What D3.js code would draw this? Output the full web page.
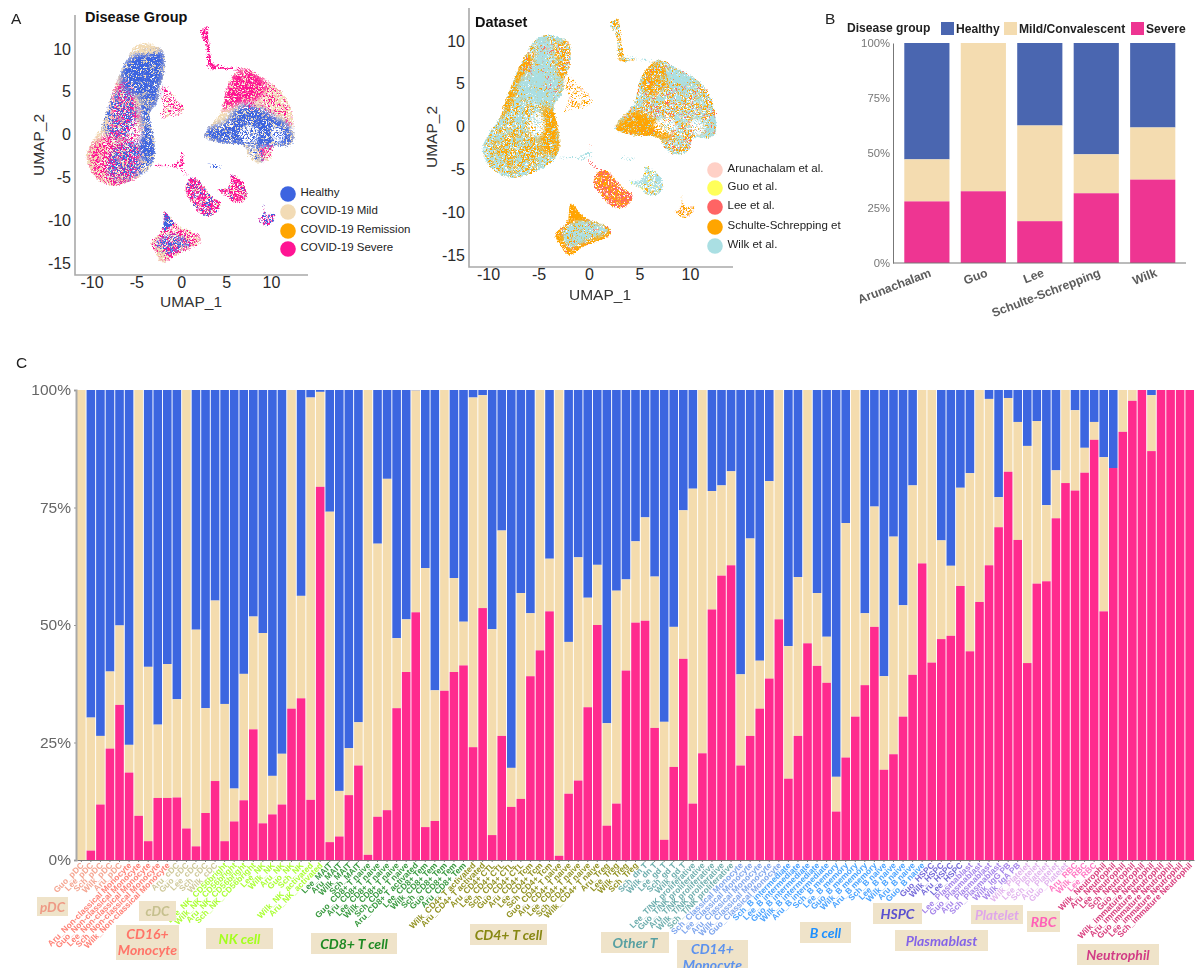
<!DOCTYPE html>
<html><head><meta charset="utf-8">
<script src="https://cdn.jsdelivr.net/npm/d3@7/dist/d3.min.js"></script>
<style>html,body{margin:0;padding:0;background:#fff;overflow:hidden}svg{display:block}text{font-family:"Liberation Sans",Arial,sans-serif}</style>
</head><body><svg id="c" width="1196" height="968"></svg>
<script>
// ---------- Panel C data (percent, cumulative from the bottom) ----------
const groupNames=["pDC","CD16+ Monocyte","cDC","NK cell","CD8+ T cell","CD4+ T cell","Other T","CD14+ Monocyte","B cell","HSPC","Plasmablast","Platelet","RBC","Neutrophil"];
const cellLabels=[
["Guo_pDC","Lee_pDC","Sch_pDC","Wilk_pDC","Aru_pDC"],
["Aru_Non-classical Monocyte","Guo_Non-classical Monocyte","Lee_Non-classical Monocyte","Sch_Non-classical Monocyte","Wilk_Non-classical Monocyte"],
["Aru_cDC","Guo_cDC","Lee_cDC","Sch_cDC","Wilk_cDC"],
["Lee_NK_CD56bright","Wilk_NK_CD56bright","Aru_NK_CD56bright","Sch_NK_CD56bright","Lee_NK","Wilk_NK","Aru_NK","Guo_NK","Sch_NK","Wilk_NK_activated","Aru_NK_activated"],
["Lee_MAIT","Aru_MAIT","Wilk_MAIT","Sch_MAIT","Guo_CD8+ T naive","Aru_CD8+ T naive","Lee_CD8+ T naive","Wilk_CD8+ T naive","Sch_CD8+ T naive","Aru_CD8+ T activated","Lee_CD8+ Tem","Wilk_CD8+ Tem","Sch_CD8+ Tem","Guo_CD8+ Tem","Aru_CD8+ Tem"],
["Wilk_CD4+ T activated","Aru_CD4+ T activated","Aru_CD4+ CTL","Lee_CD4+ CTL","Sch_CD4+ CTL","Guo_CD4+ CTL","Aru_CD4+ Tcm","Lee_CD4+ Tcm","Sch_CD4+ Tcm","Guo_CD4+ T naive","Aru_CD4+ T naive","Lee_CD4+ T naive","Sch_CD4+ T naive","Wilk_CD4+ T naive","Aru_Treg","Lee_Treg","Wilk_Treg","Sch_Treg"],
["Sch_dn T","Wilk_dn T","Lee_gd T","Sch_gd T","Wilk_gd T","Lee_T/NK proliferative","Guo_T/NK proliferative","Aru_T/NK proliferative","Wilk_T/NK proliferative","Sch_T/NK proliferative"],
["Sch_Classical Monocyte","Lee_Classical Monocyte","Aru_Classical Monocyte","Wilk_Classical Monocyte","Guo_Classical Monocyte"],
["Sch_B intermediate","Lee_B intermediate","Guo_B intermediate","Wilk_B intermediate","Aru_B intermediate","Sch_B memory","Lee_B memory","Guo_B memory","Wilk_B memory","Aru_B memory","Sch_B naive","Lee_B naive","Wilk_B naive","Aru_B naive","Guo_B naive"],
["Guo_HSPC","Wilk_HSPC","Aru_HSPC","Lee_HSPC"],
["Lee_Plasmablast","Guo_Plasmablast","Aru_Plasmablast","Sch_Plasmablast","Wilk_IgG PB","Wilk_IgA PB"],
["Wilk_Platelet","Lee_Platelet","Sch_Platelet","Aru_Platelet","Guo_Platelet"],
["Aru_RBC","Wilk_RBC","Lee_RBC"],
["Wilk_Neutrophil","Aru_Neutrophil","Lee_Neutrophil","Sch_Neutrophil","Guo_Neutrophil","Wilk_immature Neutrophil","Aru_immature Neutrophil","Guo_immature Neutrophil","Lee_immature Neutrophil","Sch_immature Neutrophil"]];
const severeTop=[0,2,11.8,23.7,33,18.6,9.4,4,13.2,13.2,13.3,6.7,2.9,10,16.8,4,8.2,12.7,27.8,7.8,9.7,11.8,32.2,34.4,12.8,79.4,3.8,5,13.8,20.1,1.1,9.2,10.6,32.3,
40,52.7,7,8.3,36,40,41.4,24,53.6,5.3,26.4,11.3,13,39.1,44.6,52.9,0.9,14.1,16.9,32.5,50,7.3,12,40.3,50.5,50.9,28.1,4.3,19.8,42.8,12,22.7,53.3,60.5,62.7,20.1,26.4,32.2,38.6,51.2,17.3,26.4,
46.1,41.3,37.7,10.3,21.8,30.5,37.2,49.6,19.2,22.5,30.5,39.4,63.1,42,47,47.7,58.3,44.4,54.9,62.7,70.8,82.6,68.1,41.9,58.8,59.3,72.7,80.2,78.6,82.4,89.4,52.9,83.4,91.1,97.7,100,87,100,100,100,100];
const mildTop=[100,30.3,26.4,40.1,49.9,24.5,100,41.1,28.8,41.7,34.2,100,49,32.3,55.2,33.2,15.2,39.6,51.8,48.3,17.9,22.6,100,56.2,98.4,99.6,74.1,14.7,23.8,29.3,100,67.3,81.1,47.2,
51.2,99.9,62.1,36.1,100,60,50.7,98.4,98.9,49.1,70.1,19.6,56.8,52.5,100,64.1,100,46.4,64.4,55.8,62.8,29.1,57.3,59.7,67.8,72.9,60.3,29.4,49.6,74.4,79,100,78.5,79.7,82.7,39.5,68.4,42.4,80.6,100,45.5,60.2,
100,56.8,47.5,17.7,71.7,100,52.5,75.2,39.1,68.8,54.2,79.7,100,100,68,62.6,79.2,82.3,100,98.1,77.2,98.3,93.2,88.1,93.4,75.5,82.9,100,95.7,87.7,93.2,85.7,83.4,100,100,100,98.9,100,100,100,100];
const percentTicks=[0,25,50,75,100];
// ---------- Panel B data ----------
const datasets=["Arunachalam","Guo","Lee","Schulte-Schrepping","Wilk"];
const dsSevere=[28,32.6,19,31.7,37.9];
const dsMild=[47.1,100,62.5,49.4,61.6];
const dsGroups=["Healthy","Mild/Convalescent","Severe"];
// ---------- Panel A legends ----------
const diseaseLevels=["Healthy","COVID-19 Mild","COVID-19 Remission","COVID-19 Severe"];
const datasetLevels=["Arunachalam et al.","Guo et al.","Lee et al.","Schulte-Schrepping et","Wilk et al."];
const umapTicksX=[-10,-5,0,5,10];
const umapTicksY=[-15,-10,-5,0,5,10];
// ---------- UMAP cluster outlines, read in UMAP units ----------
const leftBlob=[[-5.5,9.9],[-4.2,10.7],[-2.05,9.85],[-1.9,7.2],[-2.35,5.65],[-2.7,3.7],[-3.45,2.55],[-3,-.6],[-3,-2.9],[-3.85,-4.3],[-5.7,-5.45],[-7.55,-6],[-9.05,-5.45],[-10.15,-4.1],[-10.55,-2.5],[-9.8,-.6],[-8.85,1],[-8.5,2.15],[-7.55,5.25],[-6.65,7.6],[-5.9,9.15]];
const rightBlob=[[7.15,7.8],[8.45,7],[10.7,5.45],[12,3.7],[12.55,1],[12.5,-.8],[11.8,-1.35],[10.3,-1.35],[9.95,-2.7],[8.65,-3.3],[7.5,-2.55],[6.95,-1.35],[4.35,-1],[2.55,-.25],[2.85,.6],[4.35,2.55],[5.1,5.65],[5.85,7]];
const sideBlob=[[-2,5.85],[-.85,4.65],[.25,3.3],[.05,2.35],[-1.2,2.15],[-2.35,1.8],[-2,3.3],[-2.35,4.65]];
const topStem=[[2.1,12.05],[2.85,12.65],[3.15,10.7],[3.3,9.15],[3.6,8.15],[4.55,7.8],[3.05,7.65],[2.85,8.55],[2.8,9.9],[2.55,10.9]];
const stemTail=[[3.6,8.2],[5,8],[7,7.7],[7,7.5],[5,7.6],[3.6,7.9]];
const midStreak=[[-2.9,-3.55],[-1,-3.5],[.05,-2.9],[.3,-3.5],[-.4,-3.9],[-1.5,-3.7],[-2.9,-3.7]];
const midTail=[[-.1,-3.9],[.2,-4],[.9,-4.9],[.7,-5]];
const midUp=[[.0,-2],[.15,-2],[.25,-3],[.05,-3]];
const smallDart=[[3,-3.35],[3.8,-3.55],[4.6,-3.65],[3.8,-4],[3.3,-3.7]];
const plateBlob=[[1.2,-4.95],[2.1,-5.45],[3.4,-7.2],[4.35,-8],[3.6,-9.35],[2.5,-9.45],[1.2,-8],[.45,-6.6],[.65,-5.65]];
const rbcBlob=[[5.5,-4.65],[6.6,-5.25],[7.3,-6.6],[7,-7.8],[5.85,-8],[5.1,-7.2],[4,-6.4],[5.1,-6.2],[5.5,-5.45]];
const smallBlob=[[9.2,-8.05],[9.4,-9.35],[10.4,-9.15],[10.1,-10.3],[9.4,-10.7],[8.45,-9.9],[9,-9.55]];
const bottomBlob=[[-1.8,-8.95],[-.5,-10.5],[2.1,-11.95],[2.1,-12.65],[-.5,-14],[-2,-15],[-3.1,-13.4],[-3.4,-12.65],[-2.15,-11.1]];
const clusterOutlines=[leftBlob,rightBlob,sideBlob,topStem,stemTail,midStreak,midTail,midUp,smallDart,plateBlob,rbcBlob,smallBlob,bottomBlob];
// sub-regions of the clusters
const leftPinkZone=[[-10,-1.5],[-8,.5],[-7.5,5],[-6.5,6.5],[-5,4],[-4.6,-3],[-5.5,-5.6],[-7.5,-6.2],[-9.2,-5.5],[-10.2,-3.5]];
const leftBlueLow=[[-7.3,-1.5],[-5.5,-.8],[-3,-1],[-3,-3],[-4,-4.3],[-5.7,-5.2],[-7.5,-5.3],[-8.2,-4]];
const leftBlueMid=[[-8.8,1.2],[-7.5,4.7],[-6,5.2],[-5,3],[-5.5,0],[-7,-.6],[-8,-.2]];
const leftColumn=[[-4.5,5],[-3,5],[-3.4,2.5],[-3,-.6],[-3,-3],[-4.2,-3],[-4.6,-1],[-4.3,1]];
const leftBlueTop=[[-5.7,9],[-2.1,9.7],[-1.95,7.2],[-2.4,5.6],[-2.7,3.8],[-3.5,2.8],[-4,4],[-5,4.5],[-6.5,5.5],[-6.6,7.6]];
const leftTanPatch=[[-5,4.6],[-3.5,4.6],[-3.3,3.5],[-4.2,3.1],[-5.1,3.6]];
const leftHole=[[-5.4,1.6],[-4.9,1.6],[-4.4,.5],[-4.7,-1],[-5.5,-1],[-6,-.2]];
const leftTop=[[-5.5,9.9],[-4.2,10.7],[-2.4,9.8],[-4,9.3]];
const leftEdgeTan=[[-9.8,-.6],[-10.55,-2.5],[-10.15,-4.1],[-9.3,-5.2],[-9.3,-3],[-8.9,-1]];
const rightPinkTop=[[7.15,7.8],[8.4,7],[9.5,5.9],[8.5,4.2],[6.5,3.6],[4.6,3],[5.1,5.65],[5.85,7]];
const rightTanSide=[[8.45,7],[10.7,5.45],[12,3.7],[12.55,1],[11.5,1.5],[9.5,2.5],[7,3],[7.5,5]];
const rightBlueBand=[[2.55,-.25],[2.85,.6],[5,1.5],[6.5,3.3],[9,3],[10.5,2],[11.8,1.2],[12.5,-.8],[11.8,-1.35],[7,-1.35],[4.35,-1]];
const rightHoleA=[[6.4,.3],[8,1.1],[8.7,-.4],[7,-.9]];
const rightHoleB=[[10,.8],[11.3,.7],[11.3,-.9],[10.4,-.9]];
const pendantBlue=[[7.6,-1.8],[9,-1.4],[9.1,-3.1],[8.2,-2.9]];
const pendantMix=[[9,-1.4],[10.2,-1.4],[10,-2.7],[9,-3.2]];
const bottomBlue=[[-1.8,-9.2],[-.9,-10.4],[-2,-11.2],[-2,-10.4]];
const bottomBlue2=[[-2.8,-12.5],[-.5,-11.7],[1,-12.7],[-.5,-13.6],[-2,-14]];
const bottomEdge=[[-3.1,-13.4],[-2,-15],[-1.4,-14.3],[-2.6,-13.2]];
const dsLeftBlueTop=[[-4.7,10.5],[-4,10.5],[-3.7,7.8],[-3,5.85],[-3.2,1.55],[-4.5,2.7],[-6.85,3.5],[-7,5.05],[-5.5,7]];
const dsLeftOrangeCol=[[-4.6,2],[-3.2,2],[-3,-.6],[-3,-3],[-4.6,-3],[-4.9,-1.5],[-4.4,.2]];
const dsLeftRim=[[-3.2,9.8],[-2.05,9.85],[-1.9,7.2],[-2.5,5.2],[-3,5.5],[-3.2,7.5]];
const dsLeftEdge=[[-6.2,8.5],[-5.6,8],[-7,5],[-8,2],[-9,.8],[-8.9,1.4],[-7.6,5]];
const dsLeftOrangeLow=[[-9,-1.2],[-6,-.8],[-4.6,-3],[-5.6,-4.4],[-7.5,-4.6],[-9.4,-3.4]];
const dsRightOrange=[[2.55,-.3],[4.9,1.75],[7.2,0],[8.4,-1.35],[4.4,-1]];
const dsRightTop=[[5.2,5.6],[5.9,7],[7.15,7.8],[7.6,5],[6,3.6]];
const dsRightBlueSide=[[7.8,7.2],[8.6,7],[10.7,5.4],[10,3.8],[8,4.5]];
const dsRightEdge=[[11,-1.3],[11.8,-1.3],[12.5,-.8],[12.55,1],[11.9,1]];
const dsPlateBlue=[[3.4,-7.6],[4.3,-8],[3.6,-9.2],[3,-8.6]];
const dsBottomCore=[[-2.6,-12.2],[-.6,-11],[2,-12.1],[-.5,-13.5],[-2,-14.1]];
const dsBottomTop=[[-1.8,-9],[-.5,-10.5],[-1.6,-11],[-2.2,-11]];
// ---------- which population dominates each region, and its approximate share ----------
const diseaseRegions=[
[leftBlob,"COVID-19 Mild",.85],[leftEdgeTan,"COVID-19 Mild",.8],[leftPinkZone,"COVID-19 Severe",.62],[leftBlueLow,"Healthy",.55],[leftBlueMid,"Healthy",.55],[leftColumn,"Healthy",.85],[leftBlueTop,"Healthy",.9],[leftTanPatch,"COVID-19 Mild",.5],[leftHole,"blank",.7],[leftTop,"COVID-19 Mild",.8],
[rightBlob,"COVID-19 Mild",.8],[rightPinkTop,"COVID-19 Severe",.8],[rightTanSide,"COVID-19 Severe",.38],[rightBlueBand,"Healthy",.85],[rightHoleA,"blank",.66],[rightHoleB,"blank",.74],[pendantBlue,"Healthy",.55],[pendantMix,"COVID-19 Severe",.5],
[sideBlob,"COVID-19 Mild",.4],[sideBlob,"COVID-19 Severe",.42],[topStem,"COVID-19 Severe",.8],[stemTail,"COVID-19 Severe",.5],[midStreak,"COVID-19 Severe",.75],[midTail,"COVID-19 Severe",.45],[midUp,"COVID-19 Severe",.45],[smallDart,"Healthy",.6],
[plateBlob,"COVID-19 Mild",.6],[plateBlob,"COVID-19 Severe",.7],[plateBlob,"Healthy",.3],[rbcBlob,"COVID-19 Mild",.5],[rbcBlob,"COVID-19 Severe",.75],[rbcBlob,"Healthy",.1],
[smallBlob,"COVID-19 Severe",.6],[smallBlob,"Healthy",.45],
[bottomBlob,"COVID-19 Mild",.7],[bottomBlob,"COVID-19 Severe",.58],[bottomBlue,"Healthy",.9],[bottomBlue2,"Healthy",.6],[bottomEdge,"COVID-19 Mild",.75]];
const datasetRegions=[
[leftBlob,"Wilk et al.",.92],[leftBlob,"Schulte-Schrepping et",.42],[dsLeftOrangeLow,"Schulte-Schrepping et",.45],[dsLeftBlueTop,"Wilk et al.",.85],[dsLeftRim,"blank",.4],[dsLeftRim,"Schulte-Schrepping et",.6],[dsLeftEdge,"Schulte-Schrepping et",.8],[dsLeftOrangeCol,"Schulte-Schrepping et",.85],[leftHole,"blank",.8],[leftBlueTop,"Lee et al.",.05],
[rightBlob,"Wilk et al.",.85],[rightBlob,"Schulte-Schrepping et",.45],[rightBlob,"Lee et al.",.12],[dsRightOrange,"Schulte-Schrepping et",.95],[dsRightTop,"Schulte-Schrepping et",.65],[dsRightBlueSide,"Wilk et al.",.8],[dsRightEdge,"Wilk et al.",.85],[rightHoleA,"blank",.7],[rightHoleB,"blank",.72],
[sideBlob,"Schulte-Schrepping et",.42],[sideBlob,"Arunachalam et al.",.2],[topStem,"Schulte-Schrepping et",.7],[topStem,"Wilk et al.",.5],[stemTail,"Wilk et al.",.4],[midStreak,"Wilk et al.",.6],[midTail,"Lee et al.",.35],[midUp,"Arunachalam et al.",.4],[smallDart,"Wilk et al.",.5],
[plateBlob,"Schulte-Schrepping et",.8],[plateBlob,"Lee et al.",.6],[dsPlateBlue,"Lee et al.",.5],[rbcBlob,"Wilk et al.",.85],[rbcBlob,"Guo et al.",.1],[rbcBlob,"Schulte-Schrepping et",.15],
[smallBlob,"Schulte-Schrepping et",.62],[smallBlob,"Arunachalam et al.",.3],
[bottomBlob,"Schulte-Schrepping et",.92],[bottomBlob,"Lee et al.",.12],[dsBottomCore,"Wilk et al.",.9],[dsBottomTop,"Schulte-Schrepping et",.8]];

// ---------- styles and layout ----------
const cBlue="#3c66e0",cTan="#f4dcae",cPink="#ff2b8e";
const groupColors=["#f5a591","#ff8277","#cfc99a","#abff35","#3a9a40","#939324","#6eaeae","#7fa6ee","#4aa3ff","#7469d9","#a685ea","#e2b4ee","#ff78c4","#d9407f"];
const groupBoxColors=["#ee9a85","#ff7468","#c6c08e","#a4ff1e","#1e8a24","#878712","#58a0a2","#5c92ee","#1e90ff","#5a50d0","#8464e8","#dfa6ea","#ff60b8","#d23c86"];
const groupBoxLayout=[[37,897,31,19],[116,925,63,35],[139,901,37,20],[206,928,67,21],[311,933,86,21],[470,924,77,21],[601,932,68,21],[677,940,71,34],[800,922,51,21],[873,903,49,21],[895,930,93,21],[971,905,52,19],[1027,911,33,21],[1077,944,82,21]];
const diseaseColor=d3.scaleOrdinal(diseaseLevels,["#3d64e0","#f2dbb5","#ffa500","#ff1493"]);
const datasetColor=d3.scaleOrdinal(datasetLevels,["#ffd0c6","#ffff5a","#ff6464","#ffa500","#aadfe3"]);
const svg=d3.select("#c");
const defs=svg.append("defs");
function grainFilter(id,share,seed,soft){
  const f=defs.append("filter").attr("id",id).attr("filterUnits","userSpaceOnUse").attr("x",0).attr("y",0).attr("width",800).attr("height",320).attr("color-interpolation-filters","sRGB");
  f.append("feGaussianBlur").attr("in","SourceGraphic").attr("stdDeviation",soft).attr("result","shape");
  f.append("feTurbulence").attr("type","fractalNoise").attr("baseFrequency",.95).attr("numOctaves",2).attr("seed",seed+40).attr("result","noise");
  const k=9, t=k*(.5+(.5-share)*.36);
  f.append("feColorMatrix").attr("in","noise").attr("type","matrix").attr("values",`0 0 0 0 0 0 0 0 0 0 0 0 0 0 0 0 0 0 ${k} ${-t}`).attr("result","mask");
  f.append("feComposite").attr("in","shape").attr("in2","mask").attr("operator","in");
}
(function(){
  const f=defs.append("filter").attr("id","fuzz").attr("filterUnits","userSpaceOnUse").attr("x",0).attr("y",0).attr("width",800).attr("height",320).attr("color-interpolation-filters","sRGB");
  f.append("feTurbulence").attr("type","fractalNoise").attr("baseFrequency",.6).attr("numOctaves",2).attr("seed",7).attr("result","warp");
  f.append("feDisplacementMap").attr("in","SourceGraphic").attr("in2","warp").attr("scale",4.5).attr("xChannelSelector","R").attr("yChannelSelector","G").attr("result","d");
  f.append("feGaussianBlur").attr("in","d").attr("stdDeviation",.5);
})();
const outline=d3.line().curve(d3.curveCatmullRomClosed.alpha(.5));
function umapPanel(o){
  const x=d3.scaleLinear().domain([-10,10]).range(o.xr), y=d3.scaleLinear().domain([-15,10]).range(o.yr);
  const toPx=r=>r.map(p=>[x(p[0]),y(p[1])]);
  const g=svg.append("g");
  const clip=defs.append("clipPath").attr("id",o.id+"clip");
  clusterOutlines.forEach(c=>clip.append("path").attr("d",outline(toPx(c))));
  const cloud=g.append("g").attr("filter","url(#fuzz)").append("g").attr("clip-path",`url(#${o.id}clip)`);
  o.regions.forEach((r,i)=>{
    const id=o.id+"r"+i, pts=toPx(r[0]);
    const soft=clusterOutlines.includes(r[0])?.3:Math.min(2.4,Math.sqrt(Math.abs(d3.polygonArea(pts)))/14);
    grainFilter(id,r[2],i*3+o.seedBase,soft);
    cloud.append("path").attr("d",outline(pts)).attr("fill",r[1]==="blank"?"#fff":o.color(r[1])).attr("filter",`url(#${id})`);
  });
  const ax=d3.axisBottom(x).tickValues(umapTicksX).tickSize(0).tickPadding(2).tickFormat(d3.format("d"));
  const ay=d3.axisLeft(y).tickValues(umapTicksY).tickSize(0).tickPadding(4).tickFormat(d3.format("d"));
  const gx=g.append("g").attr("transform",`translate(0,${o.axB})`).call(ax);
  const gy=g.append("g").attr("transform",`translate(${o.axL},0)`).call(ay);
  [gx,gy].forEach(s=>{s.select(".domain").remove();s.selectAll("text").attr("fill","#2a2a2a").style("font-size","16px").text(d=>String(d));});
  g.append("path").attr("d",`M${o.axL},${o.axT}V${o.axB}H${o.axR}`).attr("fill","none").attr("stroke","#a9a9a9").attr("stroke-width",1.6);
  g.append("text").attr("x",o.t1[0]).attr("y",o.t1[1]).attr("text-anchor","middle").attr("fill","#333").style("font-size","15.5px").text("UMAP_1");
  g.append("text").attr("transform",`translate(${o.t2[0]},${o.t2[1]}) rotate(-90)`).attr("text-anchor","middle").attr("fill","#333").style("font-size","15.5px").text("UMAP_2");
  g.append("text").attr("x",o.title[0]).attr("y",o.title[1]).attr("font-weight","bold").attr("fill","#111").style("font-size",o.title[3]+"px").text(o.title[2]);
  const lg=g.selectAll(".lg").data(o.levels).join("g").attr("transform",(d,i)=>`translate(${o.lx},${o.ly[i]})`);
  lg.append("circle").attr("r",7.8).attr("fill",d=>o.color(d));
  lg.append("text").attr("x",12.5).attr("y",-2).attr("dy",".35em").attr("fill","#222").style("font-size","11.5px").text(d=>d);
}
umapPanel({id:"a",seedBase:2,regions:diseaseRegions,color:diseaseColor,levels:diseaseLevels,xr:[91.5,271],yr:[263,49],axL:75,axT:15,axB:275,axR:308,t1:[191,307],t2:[44,145],title:[85,22,"Disease Group",14.5],lx:288,ly:[194,212,231,249]});
umapPanel({id:"b",seedBase:5,regions:datasetRegions,color:datasetColor,levels:datasetLevels,xr:[488,690],yr:[255,41],axL:469,axT:8,axB:267,axR:733,t1:[600,300],t2:[437,137],title:[475,27,"Dataset",14.5],lx:715,ly:[170,188,207,227,246]});

// panel letters
[["A",11,24],["B",825,24],["C",16,368]].forEach(a=>svg.append("text").attr("x",a[1]).attr("y",a[2]).attr("fill","#222").style("font-size","15.5px").text(a[0]));

// ---------- Panel B stacked bars ----------
(function(){
  const x=d3.scaleBand().domain(datasets).range([893,1186.6]).paddingInner(.2).paddingOuter(.2);
  const y=d3.scaleLinear().domain([0,100]).range([263,43]);
  const g=svg.append("g");
  const colors=["#4a66b0","#f4dcb0","#ee3592"];
  const rows=datasets.map((d,i)=>({d,s:dsSevere[i],m:dsMild[i]}));
  g.selectAll(".h").data(rows).join("rect").attr("x",r=>x(r.d)).attr("width",x.bandwidth()).attr("y",y(100)).attr("height",r=>y(r.m)-y(100)).attr("fill",colors[0]);
  g.selectAll(".m").data(rows).join("rect").attr("x",r=>x(r.d)).attr("width",x.bandwidth()).attr("y",r=>y(r.m)).attr("height",r=>y(r.s)-y(r.m)).attr("fill",colors[1]);
  g.selectAll(".s").data(rows).join("rect").attr("x",r=>x(r.d)).attr("width",x.bandwidth()).attr("y",r=>y(r.s)).attr("height",r=>y(0)-y(r.s)).attr("fill",colors[2]);
  const ay=g.append("g").attr("transform","translate(893,0)").call(d3.axisLeft(y).tickValues(percentTicks).tickSize(0).tickPadding(3).tickFormat(d=>d+"%"));
  ay.select(".domain").attr("stroke","#777").attr("stroke-width",1);
  ay.selectAll("text").attr("fill","#777").style("font-size","11.3px");
  g.append("line").attr("x1",893).attr("x2",1186).attr("y1",263).attr("y2",263).attr("stroke","#777");
  g.selectAll(".xl").data(datasets).join("text").attr("text-anchor","end").attr("font-weight","bold").attr("fill","#5c5c5c").style("font-size","12.2px")
   .attr("transform",d=>`translate(${x(d)+x.bandwidth()/2+5},${276}) rotate(-21)`).text(d=>d);
  g.append("text").attr("x",847).attr("y",32).attr("font-weight","bold").attr("fill","#222").style("font-size","12.1px").text("Disease group");
  const boxX=[941,1004,1131];
  dsGroups.forEach((n,i)=>{
    g.append("rect").attr("x",boxX[i]).attr("y",22).attr("width",13).attr("height",13).attr("fill",colors[i]);
    g.append("text").attr("x",boxX[i]+15).attr("y",33).attr("font-weight","bold").attr("fill","#222").style("font-size","12.1px").text(n);
  });
})();

// ---------- Panel C stacked bars ----------
(function(){
  const flat=cellLabels.flatMap((a,gi)=>a.map(l=>({l,gi})));
  flat.forEach((c,i)=>{c.i=i;c.s=severeTop[i];c.m=mildTop[i];});
  const x=d3.scaleBand().domain(flat.map(c=>c.i)).range([77,1194]).paddingInner(.1).paddingOuter(0);
  const y=d3.scaleLinear().domain([0,100]).range([860,390]);
  const g=svg.append("g");
  const bw=x.bandwidth();
  g.selectAll(".h").data(flat.filter(c=>c.m<100)).join("rect").attr("x",c=>x(c.i)).attr("width",bw).attr("y",y(100)).attr("height",c=>y(c.m)-y(100)).attr("fill",cBlue);
  g.selectAll(".m").data(flat.filter(c=>c.m>c.s)).join("rect").attr("x",c=>x(c.i)).attr("width",bw).attr("y",c=>y(c.m)).attr("height",c=>y(c.s)-y(c.m)).attr("fill",cTan);
  g.selectAll(".s").data(flat.filter(c=>c.s>0)).join("rect").attr("x",c=>x(c.i)).attr("width",bw).attr("y",c=>y(c.s)).attr("height",c=>y(0)-y(c.s)).attr("fill",cPink);
  const ay=g.append("g").attr("transform","translate(76,0)").call(d3.axisLeft(y).tickValues(percentTicks).tickSize(2).tickPadding(3).tickFormat(d=>d+"%"));
  ay.select(".domain").attr("stroke","#a9a9a9").attr("stroke-width",2);
  ay.selectAll("line").attr("stroke","#999");
  ay.selectAll("text").attr("fill","#666").style("font-size","15.5px");
  const ax=g.append("g").attr("transform","translate(0,860)").call(d3.axisBottom(x).tickSize(2).tickSizeOuter(0).tickFormat(""));
  ax.select(".domain").attr("stroke","#777");
  ax.selectAll("line").attr("stroke","#777");
  g.append("g").style("filter","blur(.35px)").selectAll(".xl").data(flat).join("text").attr("text-anchor","end").attr("font-weight","bold").attr("fill",c=>groupColors[c.gi]).style("font-size","8.4px")
    .attr("transform",c=>`translate(${x(c.i)+bw/2+3},${866}) rotate(-45)`).text(c=>c.l);
  // group annotation boxes
  const boxes=g.selectAll(".gb").data(groupNames).join("g");
  boxes.append("rect").attr("x",(d,i)=>groupBoxLayout[i][0]).attr("y",(d,i)=>groupBoxLayout[i][1]).attr("width",(d,i)=>groupBoxLayout[i][2]).attr("height",(d,i)=>groupBoxLayout[i][3]).attr("fill","#efe3c9");
  boxes.each(function(d,i){
    const b=groupBoxLayout[i], parts=d.endsWith("Monocyte")?d.split(" "):[d];
    const t=d3.select(this).append("text").attr("text-anchor","middle").attr("font-weight","bold").attr("font-style","italic").attr("fill",groupBoxColors[i]).style("font-family","Lato,sans-serif").style("font-size",i===0||i===2||i===11?"13.5px":"14px");
    parts.forEach((p,j)=>t.append("tspan").attr("x",b[0]+b[2]/2).attr("y",b[1]+(parts.length>1?14+j*16:b[3]/2+5)).text(p));
  });
})();
</script></body></html>
